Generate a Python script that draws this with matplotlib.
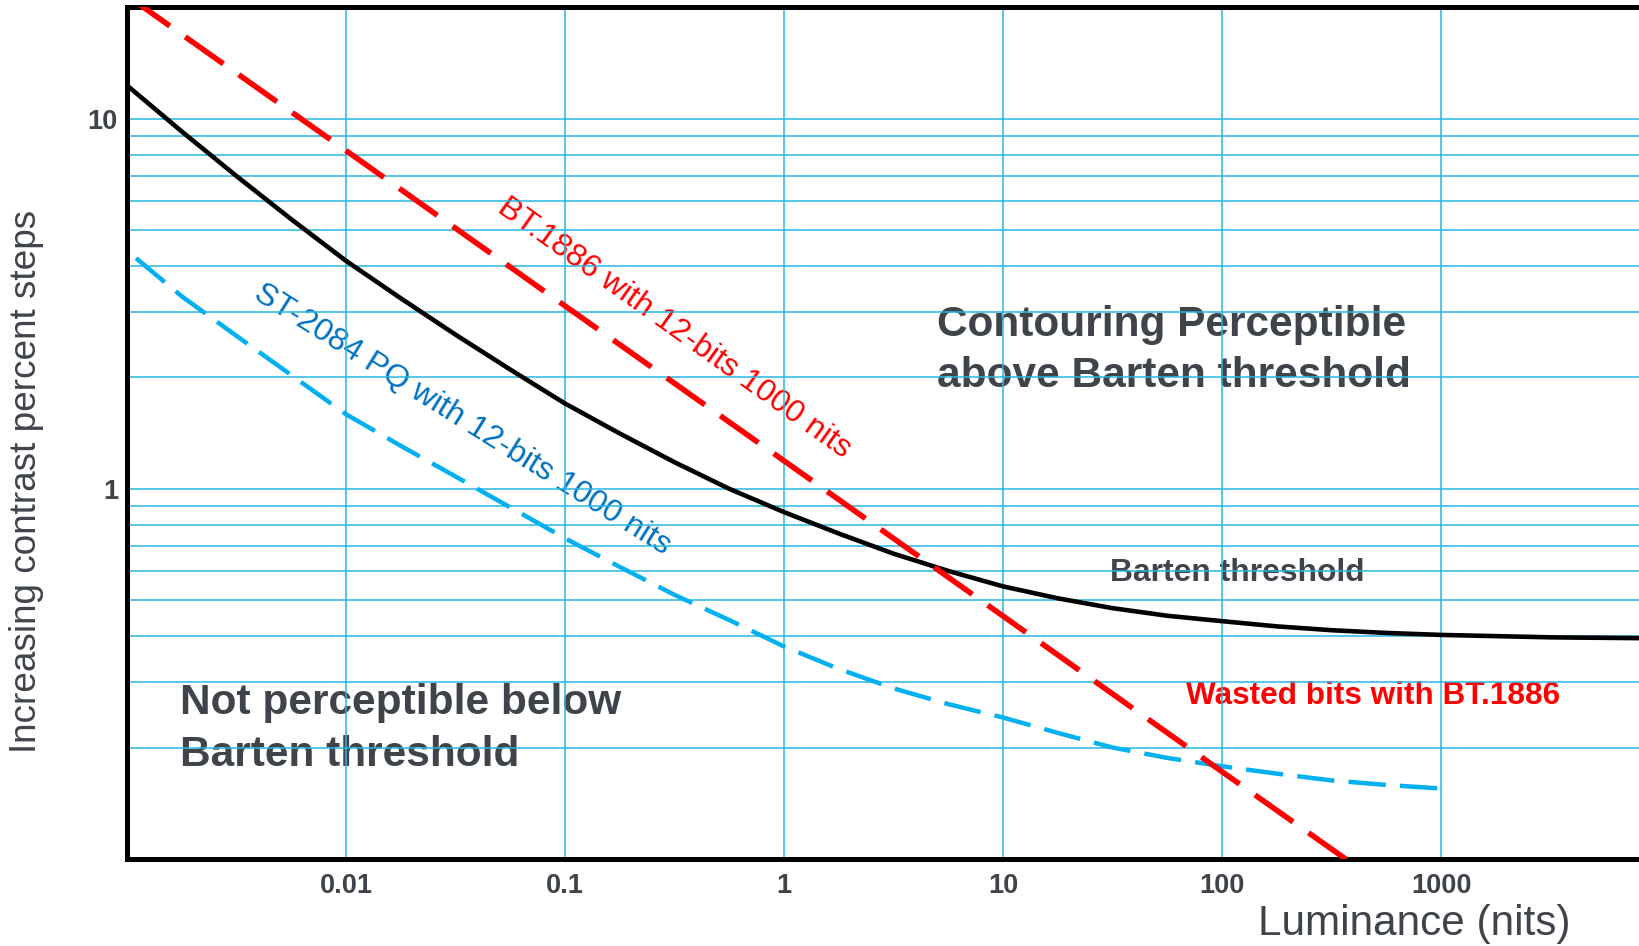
import matplotlib
matplotlib.use('Agg')
import matplotlib.pyplot as plt
from matplotlib.ticker import FixedLocator, FixedFormatter, NullFormatter

plt.rcParams['font.family'] = ['Liberation Sans', 'DejaVu Sans']

# curves (luminance in nits, step size in percent)
barten_lum = [0.001, 0.00178, 0.00316, 0.00562, 0.01, 0.0178, 0.0316, 0.0562,
              0.1, 0.178, 0.316, 0.562, 1, 1.78, 3.16, 5.62, 10, 17.8, 31.6,
              56.2, 100, 178, 316, 562, 1000, 1780, 3160, 8000]
barten_pct = [12.3, 9.23, 7.0, 5.35, 4.13, 3.27, 2.61, 2.10,
              1.70, 1.41, 1.18, 1.0, 0.865, 0.757, 0.668, 0.60, 0.545, 0.506, 0.476,
              0.454, 0.439, 0.425, 0.415, 0.408, 0.403, 0.400, 0.397, 0.395]

pq_lum = [0.0011, 0.00178, 0.00316, 0.00562, 0.01, 0.0178, 0.0316, 0.0562, 0.1,
          0.178, 0.316, 0.562, 1, 1.78, 3.16, 5.62, 10, 17.8, 31.6, 56.2, 100,
          178, 316, 562, 1000]
pq_pct = [4.2, 3.31, 2.59, 2.03, 1.59, 1.306, 1.08, 0.891, 0.735,
          0.615, 0.517, 0.442, 0.375, 0.326, 0.289, 0.262, 0.241, 0.219, 0.2, 0.1875, 0.178,
          0.170, 0.163, 0.1585, 0.155]

bt1886_lum = [0.001, 0.01, 0.1, 1, 10, 100, 1000]
bt1886_pct = [21.5, 8.2, 3.12, 1.19, 0.453, 0.172, 0.0657]

x_ticks = [0.01, 0.1, 1, 10, 100, 1000]
x_labels = ['0.01', '0.1', '1', '10', '100', '1000']
y_ticks = [1, 10]
y_labels = ['1', '10']

gray = '#3f434a'
grid_col = '#29b6df'

fig = plt.figure(figsize=(16.39, 9.46), dpi=100)
ax = fig.add_axes([0.0775, 0.092, 0.9225, 0.9003])

ax.plot(barten_lum, barten_pct, color='black', lw=3.3, solid_capstyle='butt', zorder=3)
ax.plot(pq_lum, pq_pct, color='#00b0f0', lw=3.2, dashes=(8.4, 3.2), zorder=3)
ax.plot(bt1886_lum, bt1886_pct, color='#ff0000', lw=4.0, dashes=(8.4, 3.4), zorder=4)

ax.set_xscale('log')
ax.set_yscale('log')
ax.set_xlim(0.001, 8000)
ax.set_ylim(0.1, 20)

ax.xaxis.set_major_locator(FixedLocator(x_ticks))
ax.xaxis.set_major_formatter(FixedFormatter(x_labels))
ax.xaxis.set_minor_locator(FixedLocator([]))
ax.yaxis.set_major_locator(FixedLocator(y_ticks))
ax.yaxis.set_major_formatter(FixedFormatter(y_labels))
ax.yaxis.set_minor_locator(FixedLocator([k * 10.0 ** e for e in (-1, 0, 1) for k in range(2, 10)]))
ax.yaxis.set_minor_formatter(NullFormatter())

ax.grid(True, which='major', axis='both', color=grid_col, lw=1.1)
ax.grid(True, which='minor', axis='y', color=grid_col, lw=1.1)

ax.tick_params(axis='both', which='both', length=0)
ax.tick_params(axis='x', pad=10, labelsize=19.5, labelcolor=gray)
ax.tick_params(axis='y', pad=6.5, labelsize=19.5, labelcolor=gray)
for lab in ax.get_xticklabels() + ax.get_yticklabels():
    lab.set_fontweight('bold')

for side in ['left', 'top', 'bottom']:
    ax.spines[side].set_linewidth(3.6)
    ax.spines[side].set_color('black')
ax.spines['right'].set_visible(False)

ax.text(0.315, 2.71, 'BT.1886 with 12-bits 1000 nits', color='#ff0000', fontsize=23,
        rotation=-35.5, rotation_mode='anchor', ha='center', va='center', zorder=1)
ax.text(0.0339, 1.54, 'ST-2084 PQ with 12-bits 1000 nits', color='#0070c0', fontsize=23,
        rotation=-32, rotation_mode='anchor', ha='center', va='center', zorder=1)
ax.text(5.01, 2.37, 'Contouring Perceptible\nabove Barten threshold', color=gray,
        fontsize=30.5, fontweight='bold', ha='left', va='center', linespacing=1.35, zorder=1)
ax.text(0.00175, 0.2245, 'Not perceptible below\nBarten threshold', color=gray,
        fontsize=30.5, fontweight='bold', ha='left', va='center', linespacing=1.4, zorder=1)
ax.text(30.6, 0.592, 'Barten threshold', color=gray, fontsize=22.9, fontweight='bold',
        ha='left', va='center', zorder=1)
ax.text(68.1, 0.275, 'Wasted bits with BT.1886', color='#ff0000', fontsize=22.7,
        fontweight='bold', ha='left', va='center', zorder=1)

fig.text(0.0159, 0.4915, 'Increasing contrast percent steps', color=gray, fontsize=26.6,
         rotation=90, ha='center', va='center')
fig.text(0.8627, 0.0233, 'Luminance (nits)', color=gray, fontsize=30.4, ha='center', va='center')

fig.savefig('out.png', dpi=100)
